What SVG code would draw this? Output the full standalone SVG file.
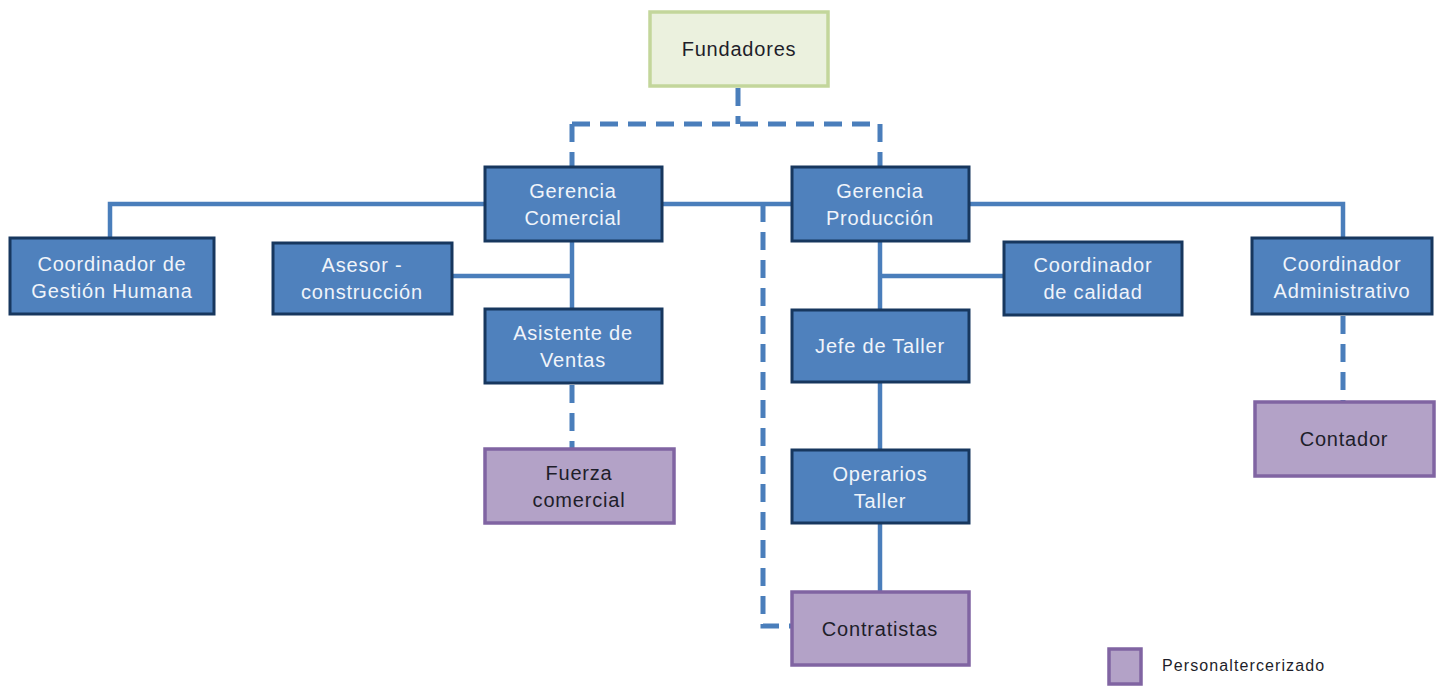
<svg xmlns="http://www.w3.org/2000/svg" width="1447" height="688" viewBox="0 0 1447 688">
<style>
.blue{fill:#4f81bd;stroke:#17375e;stroke-width:3}
.purple{fill:#b3a2c7;stroke:#8064a2;stroke-width:3.5}
.green{fill:#ebf1de;stroke:#c3d69b;stroke-width:3.5}
.ln{fill:none;stroke:#4a7ebb;stroke-width:4.5}
.dash{fill:none;stroke:#4a7ebb;stroke-width:5;stroke-dasharray:18 10}
text{font-family:"Liberation Sans",Arial,sans-serif;font-size:20px;letter-spacing:0.8px;text-anchor:middle}
.w{fill:#f0f4fa}
.d{fill:#1e1e2a}
</style>
<rect width="1447" height="688" fill="#ffffff"/>
<g id="connectors">
<path class="dash" d="M738,88 V124"/>
<path class="dash" d="M572,124 H880"/>
<path class="dash" d="M572,124 V167"/>
<path class="dash" d="M880,124 V167"/>
<path class="ln" d="M110,238 V204 H1343 V238"/>
<path class="ln" d="M572,241 V309"/>
<path class="ln" d="M452,276 H572"/>
<path class="dash" d="M572,385 V449"/>
<path class="dash" d="M763,204 V626 H792"/>
<path class="ln" d="M880,241 V310"/>
<path class="ln" d="M880,276 H1004"/>
<path class="ln" d="M880,382 V450"/>
<path class="ln" d="M880,523 V592"/>
<path class="dash" d="M1343,316 V402"/>
</g>
<g id="fundadores"><rect class="green" x="650" y="12" width="178" height="74"/><text class="d" x="739" y="56">Fundadores</text></g>
<g id="gerencia-comercial"><rect class="blue" x="485" y="167" width="177" height="74"/><text class="w" x="573" y="198">Gerencia</text><text class="w" x="573" y="225">Comercial</text></g>
<g id="gerencia-produccion"><rect class="blue" x="792" y="167" width="177" height="74"/><text class="w" x="880" y="198">Gerencia</text><text class="w" x="880" y="225">Producción</text></g>
<g id="coord-gestion-humana"><rect class="blue" x="10" y="238" width="204" height="76"/><text class="w" x="112" y="271">Coordinador de</text><text class="w" x="112" y="298">Gestión Humana</text></g>
<g id="asesor-construccion"><rect class="blue" x="273" y="243" width="179" height="71"/><text class="w" x="362" y="272">Asesor -</text><text class="w" x="362" y="299">construcción</text></g>
<g id="asistente-ventas"><rect class="blue" x="485" y="309" width="177" height="74"/><text class="w" x="573" y="340">Asistente de</text><text class="w" x="573" y="367">Ventas</text></g>
<g id="fuerza-comercial"><rect class="purple" x="485" y="449" width="189" height="74"/><text class="d" x="579" y="480">Fuerza</text><text class="d" x="579" y="507">comercial</text></g>
<g id="coord-calidad"><rect class="blue" x="1004" y="242" width="178" height="73"/><text class="w" x="1093" y="272">Coordinador</text><text class="w" x="1093" y="299">de calidad</text></g>
<g id="jefe-taller"><rect class="blue" x="792" y="310" width="177" height="72"/><text class="w" x="880" y="353">Jefe de Taller</text></g>
<g id="operarios-taller"><rect class="blue" x="792" y="450" width="177" height="73"/><text class="w" x="880" y="481">Operarios</text><text class="w" x="880" y="508">Taller</text></g>
<g id="contratistas"><rect class="purple" x="792" y="592" width="177" height="73"/><text class="d" x="880" y="636">Contratistas</text></g>
<g id="coord-administrativo"><rect class="blue" x="1252" y="238" width="180" height="76"/><text class="w" x="1342" y="271">Coordinador</text><text class="w" x="1342" y="298">Administrativo</text></g>
<g id="contador"><rect class="purple" x="1255" y="402" width="179" height="74"/><text class="d" x="1344" y="446">Contador</text></g>
<g id="legend"><rect class="purple" x="1109" y="649" width="32" height="35"/><text class="d" x="1162" y="671" style="font-size:16px;letter-spacing:1.1px;text-anchor:start">Personaltercerizado</text></g>
</svg>
